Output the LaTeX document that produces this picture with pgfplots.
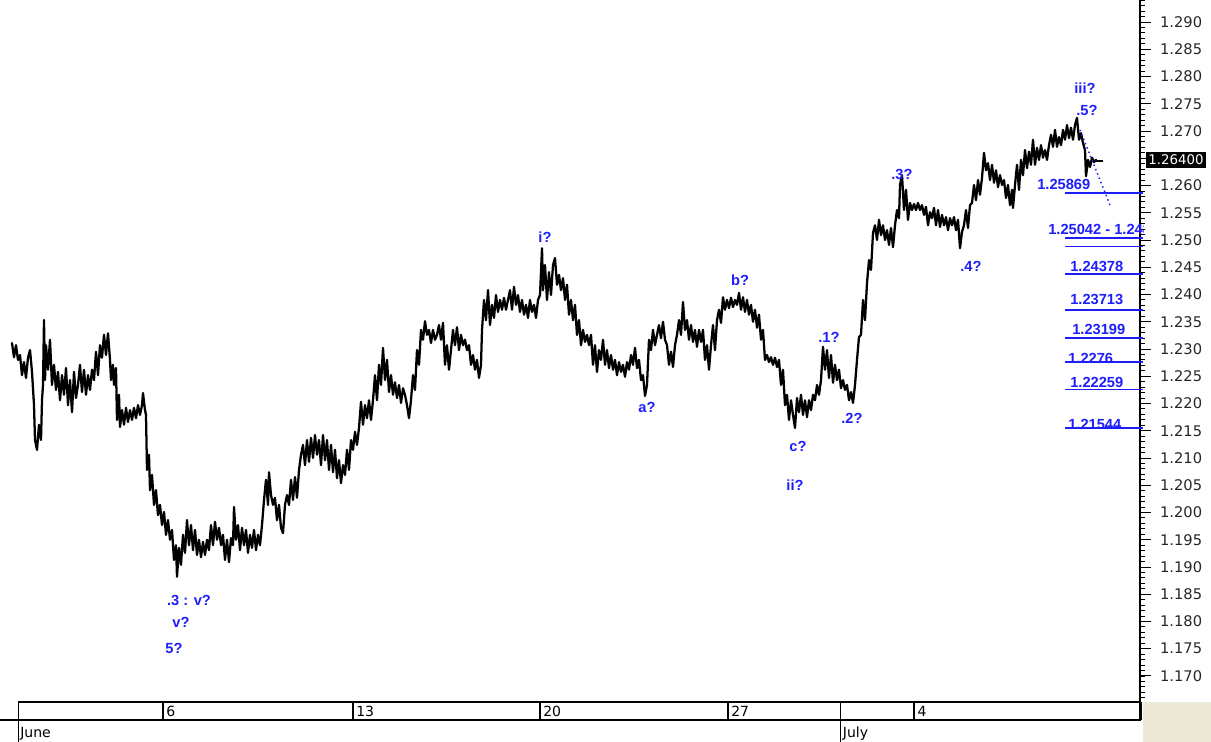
\documentclass[border=0pt]{standalone}
\usepackage{fontspec}
\setmainfont{DejaVu Sans}
\newfontfamily\lab{Liberation Sans}
\usepackage{pgfplots}
\pgfplotsset{compat=1.18}
\definecolor{lblue}{RGB}{30,30,250}
\definecolor{beige}{RGB}{236,233,216}
\newcommand{\bl}[1]{{\lab\bfseries\fontsize{11}{12}\selectfont\color{lblue}#1}}
\begin{document}
\begin{tikzpicture}
\begin{axis}[
  scale only axis, width=855pt, height=526.5pt,
  xmin=0, xmax=1140, ymin=1.16523, ymax=1.29404,
  clip=false,
  axis x line=none, axis y line=right,
  axis line style={-, line width=1.1pt},
  every outer y axis line/.append style={-},
  every inner y axis line/.append style={-},
  tick align=outside,
  ytick={1.170,1.175,1.180,1.185,1.190,1.195,1.200,1.205,1.210,1.215,1.220,1.225,1.230,1.235,1.240,1.245,1.250,1.255,1.260,1.270,1.275,1.280,1.285,1.290},
  extra y ticks={1.265}, extra y tick labels={},
  minor ytick={1.166,1.167,...,1.2941},
  major tick length=8.25pt, minor tick length=3.75pt,
  every tick/.style={black, line width=0.75pt},
  yticklabel pos=right,
  yticklabel style={/pgf/number format/.cd, fixed, fixed zerofill, precision=3, assume math mode=true},
  tick label style={font=\fontsize{11}{12}\selectfont, text=black!85, xshift=3.3pt},
]
\addplot[black, line width=1.7pt, line join=round, line cap=round] table {
x y
12 1.2311
14 1.2285
16 1.2307
18 1.2280
20 1.2289
22 1.2252
24 1.2276
26 1.2247
28 1.2284
30 1.2298
32 1.2258
34 1.2197
35 1.2133
37 1.2115
39 1.2161
41 1.2133
42 1.2206
43 1.2234
44 1.2353
45 1.2243
46 1.2307
48 1.2262
50 1.2317
52 1.2234
54 1.2271
56 1.2225
58 1.2258
60 1.2206
62 1.2252
64 1.2216
66 1.2265
68 1.2197
70 1.2243
72 1.2184
74 1.2258
76 1.2210
78 1.2234
80 1.2271
82 1.2221
84 1.2262
86 1.2216
88 1.2252
90 1.2225
92 1.2262
94 1.2243
96 1.2295
98 1.2252
100 1.2307
102 1.2284
104 1.2326
106 1.2289
108 1.2329
110 1.2280
111 1.2243
113 1.2271
114 1.2234
116 1.2265
117 1.2170
119 1.2216
120 1.2157
122 1.2188
124 1.2161
126 1.2192
128 1.2166
130 1.2188
132 1.2170
134 1.2192
136 1.2173
138 1.2197
140 1.2179
142 1.2197
143 1.2219
145 1.2188
146 1.2179
147 1.2078
149 1.2106
150 1.2041
152 1.2069
154 1.2014
156 1.2041
158 1.1995
160 1.2014
162 1.1977
164 1.2001
166 1.1959
168 1.1986
170 1.1950
172 1.1968
174 1.1913
176 1.1940
177 1.1882
179 1.1935
181 1.1904
183 1.1959
185 1.1926
187 1.1986
189 1.1940
191 1.1977
193 1.1931
195 1.1968
197 1.1922
199 1.1950
201 1.1918
203 1.1946
205 1.1922
207 1.1950
209 1.1931
211 1.1977
213 1.1940
215 1.1983
217 1.1950
219 1.1972
221 1.1940
223 1.1959
225 1.1913
227 1.1950
229 1.1909
231 1.1953
233 1.1940
234 1.2010
236 1.1950
238 1.1977
240 1.1931
242 1.1972
244 1.1940
246 1.1968
248 1.1926
250 1.1959
252 1.1935
254 1.1968
256 1.1931
258 1.1959
260 1.1940
262 1.1977
264 1.2023
266 1.2060
268 1.2014
269 1.2074
271 1.2032
273 1.2014
275 1.2027
277 1.1986
279 1.2014
281 1.1972
283 1.1962
285 1.2014
287 1.2032
289 1.2014
291 1.2060
293 1.2023
295 1.2065
297 1.2027
299 1.2078
301 1.2106
303 1.2124
305 1.2087
307 1.2133
309 1.2093
311 1.2137
313 1.2100
315 1.2142
317 1.2106
319 1.2133
321 1.2087
323 1.2142
325 1.2096
327 1.2133
329 1.2078
331 1.2124
333 1.2074
335 1.2115
337 1.2063
339 1.2096
341 1.2054
343 1.2087
345 1.2069
347 1.2115
349 1.2078
351 1.2133
353 1.2115
355 1.2148
357 1.2124
359 1.2155
361 1.2203
363 1.2161
365 1.2197
367 1.2173
369 1.2206
371 1.2170
373 1.2206
375 1.2252
377 1.2206
379 1.2271
381 1.2234
383 1.2302
385 1.2243
387 1.2280
389 1.2221
391 1.2252
393 1.2216
395 1.2239
397 1.2210
399 1.2234
401 1.2201
403 1.2228
405 1.2216
407 1.2197
409 1.2173
411 1.2206
413 1.2252
415 1.2225
417 1.2298
419 1.2271
421 1.2335
423 1.2317
425 1.2351
427 1.2326
429 1.2335
431 1.2311
433 1.2335
435 1.2317
437 1.2326
439 1.2344
441 1.2317
443 1.2348
445 1.2271
447 1.2307
449 1.2262
451 1.2298
453 1.2335
455 1.2307
457 1.2340
459 1.2298
461 1.2326
463 1.2307
465 1.2317
467 1.2298
469 1.2307
471 1.2271
473 1.2289
475 1.2262
477 1.2280
479 1.2247
481 1.2271
482 1.2335
484 1.2390
486 1.2353
488 1.2408
490 1.2344
492 1.2381
494 1.2357
496 1.2399
498 1.2368
500 1.2390
502 1.2372
504 1.2394
506 1.2372
508 1.2390
510 1.2408
512 1.2372
514 1.2414
516 1.2381
518 1.2399
520 1.2368
522 1.2390
524 1.2363
526 1.2381
528 1.2357
530 1.2390
532 1.2368
534 1.2381
536 1.2357
538 1.2390
540 1.2399
542 1.2485
543 1.2408
545 1.2454
547 1.2390
549 1.2441
551 1.2399
553 1.2454
555 1.2467
557 1.2418
559 1.2436
561 1.2408
563 1.2430
565 1.2390
567 1.2418
569 1.2363
571 1.2390
573 1.2353
575 1.2381
577 1.2326
579 1.2353
581 1.2307
583 1.2335
585 1.2313
587 1.2326
589 1.2307
591 1.2326
593 1.2271
595 1.2307
597 1.2258
599 1.2298
601 1.2280
603 1.2317
605 1.2271
607 1.2298
609 1.2265
611 1.2289
613 1.2262
615 1.2280
617 1.2252
619 1.2276
621 1.2258
623 1.2271
625 1.2249
627 1.2276
629 1.2262
631 1.2289
633 1.2271
635 1.2302
637 1.2265
639 1.2280
641 1.2243
643 1.2252
645 1.2214
647 1.2234
649 1.2317
651 1.2298
653 1.2335
655 1.2307
657 1.2326
659 1.2344
661 1.2320
663 1.2350
665 1.2317
667 1.2307
669 1.2271
671 1.2295
673 1.2267
675 1.2307
677 1.2326
679 1.2353
681 1.2326
683 1.2386
685 1.2335
687 1.2353
689 1.2317
691 1.2344
693 1.2313
695 1.2335
697 1.2304
699 1.2335
701 1.2313
703 1.2335
705 1.2280
707 1.2307
709 1.2262
711 1.2307
713 1.2344
715 1.2298
717 1.2353
719 1.2372
721 1.2348
723 1.2395
725 1.2372
727 1.2390
729 1.2375
731 1.2394
733 1.2377
735 1.2390
737 1.2381
739 1.2403
741 1.2372
743 1.2395
745 1.2368
747 1.2390
749 1.2363
751 1.2381
753 1.2350
755 1.2372
757 1.2339
759 1.2363
761 1.2317
763 1.2335
765 1.2280
767 1.2289
769 1.2276
771 1.2285
773 1.2271
775 1.2284
777 1.2267
779 1.2280
781 1.2234
783 1.2262
785 1.2197
787 1.2216
789 1.2170
791 1.2206
793 1.2179
795 1.2155
797 1.2210
799 1.2184
801 1.2216
803 1.2179
805 1.2206
807 1.2175
809 1.2206
811 1.2188
813 1.2216
815 1.2206
817 1.2234
819 1.2216
821 1.2243
823 1.2304
825 1.2262
827 1.2298
829 1.2247
831 1.2289
833 1.2238
835 1.2271
837 1.2243
839 1.2262
841 1.2228
843 1.2243
845 1.2225
847 1.2234
849 1.2206
851 1.2221
853 1.2201
855 1.2234
857 1.2280
859 1.2322
861 1.2326
863 1.2390
865 1.2353
867 1.2421
869 1.2463
871 1.2445
873 1.2513
875 1.2527
877 1.2500
879 1.2537
881 1.2509
883 1.2527
885 1.2500
887 1.2518
889 1.2491
891 1.2522
893 1.2487
895 1.2527
897 1.2555
899 1.2540
900 1.2601
902 1.2619
904 1.2555
906 1.2592
908 1.2537
910 1.2568
912 1.2555
914 1.2566
916 1.2555
918 1.2568
920 1.2555
922 1.2564
924 1.2546
926 1.2561
928 1.2527
930 1.2551
932 1.2540
934 1.2559
936 1.2527
938 1.2555
940 1.2524
942 1.2546
944 1.2527
946 1.2542
948 1.2518
950 1.2540
952 1.2527
954 1.2542
956 1.2518
958 1.2537
960 1.2485
962 1.2515
964 1.2527
966 1.2555
968 1.2522
970 1.2564
972 1.2568
974 1.2601
976 1.2573
978 1.2610
980 1.2583
982 1.2614
984 1.2660
986 1.2628
988 1.2641
990 1.2610
992 1.2638
994 1.2605
996 1.2628
998 1.2597
1000 1.2619
1002 1.2601
1004 1.2610
1006 1.2577
1008 1.2601
1010 1.2564
1012 1.2592
1013 1.2559
1015 1.2601
1017 1.2638
1019 1.2592
1021 1.2647
1023 1.2619
1025 1.2665
1027 1.2632
1029 1.2662
1031 1.2638
1033 1.2684
1035 1.2638
1037 1.2669
1039 1.2647
1041 1.2674
1043 1.2651
1045 1.2665
1047 1.2647
1049 1.2674
1051 1.2693
1053 1.2671
1055 1.2702
1057 1.2671
1059 1.2689
1061 1.2674
1063 1.2702
1065 1.2684
1067 1.2711
1069 1.2687
1071 1.2706
1073 1.2684
1075 1.2711
1077 1.2724
1079 1.2684
1081 1.2696
1083 1.2678
1085 1.2665
1086 1.2617
1088 1.2647
1090 1.2634
1092 1.2651
1094 1.2643
1096 1.2647
};
\addplot[black, line width=1.3pt] coordinates {(1094,1.2645) (1103,1.2645)};
% projection
\addplot[lblue, line width=1.1pt, dash pattern=on 1.1pt off 2.4pt] coordinates {(1080,1.2702) (1110,1.2564)};
% levels
\addplot[lblue, line width=1.3pt] coordinates {(1065,1.25869) (1143,1.25869)};
\addplot[lblue, line width=1.3pt] coordinates {(1065,1.25042) (1143,1.25042)};
\addplot[lblue, line width=1.3pt] coordinates {(1065,1.24881) (1143,1.24881)};
\addplot[lblue, line width=1.3pt] coordinates {(1065,1.24378) (1143,1.24378)};
\addplot[lblue, line width=1.3pt] coordinates {(1065,1.23713) (1143,1.23713)};
\addplot[lblue, line width=1.3pt] coordinates {(1065,1.23199) (1143,1.23199)};
\addplot[lblue, line width=1.3pt] coordinates {(1065,1.22760) (1143,1.22760)};
\addplot[lblue, line width=1.3pt] coordinates {(1065,1.22259) (1143,1.22259)};
\addplot[lblue, line width=1.3pt] coordinates {(1065,1.21544) (1143,1.21544)};
% level labels
\node[anchor=base west, inner sep=0pt] at (axis cs:1037,1.25918) {\bl{1.25869}};
\begin{scope}
\clip (axis cs:1000,1.2470) rectangle (axis cs:1143,1.2560);
\node[anchor=base west, inner sep=0pt] at (axis cs:1048,1.25092) {\bl{1.25042 - 1.24881}};
\end{scope}
\node[anchor=base west, inner sep=0pt] at (axis cs:1070,1.24422) {\bl{1.24378}};
\node[anchor=base west, inner sep=0pt] at (axis cs:1070,1.2381) {\bl{1.23713}};
\node[anchor=base west, inner sep=0pt] at (axis cs:1072,1.2326) {\bl{1.23199}};
\node[anchor=base west, inner sep=0pt] at (axis cs:1068,1.2274) {\bl{1.2276}};
\node[anchor=base west, inner sep=0pt] at (axis cs:1070,1.2230) {\bl{1.22259}};
\node[anchor=base west, inner sep=0pt] at (axis cs:1068,1.2153) {\bl{1.21544}};
% wave labels
\node[inner sep=0pt] at (axis cs:1085,1.2779) {\bl{iii?}};
\node[inner sep=0pt] at (axis cs:1087,1.2738) {\bl{.5?}};
\node[inner sep=0pt] at (axis cs:545,1.2506) {\bl{i?}};
\node[inner sep=0pt] at (axis cs:740,1.2427) {\bl{b?}};
\node[inner sep=0pt] at (axis cs:647,1.2192) {\bl{a?}};
\node[inner sep=0pt] at (axis cs:798,1.2122) {\bl{c?}};
\node[inner sep=0pt] at (axis cs:795,1.2051) {\bl{ii?}};
\node[inner sep=0pt] at (axis cs:829,1.2322) {\bl{.1?}};
\node[inner sep=0pt] at (axis cs:852,1.2172) {\bl{.2?}};
\node[inner sep=0pt] at (axis cs:902,1.2621) {\bl{.3?}};
\node[inner sep=0pt] at (axis cs:971,1.2452) {\bl{.4?}};
\node[inner sep=0pt] at (axis cs:189,1.1839) {\bl{.3 : v?}};
\node[inner sep=0pt] at (axis cs:181,1.1799) {\bl{v?}};
\node[inner sep=0pt] at (axis cs:174,1.1750) {\bl{5?}};
% last price box
\node[fill=black, text=white, inner xsep=1.5pt, inner ysep=2.5pt, font=\fontsize{10}{12}\selectfont] at (axis cs:1176,1.2647) {1.26400};
\end{axis}
% date strip (px -> pt: x*0.75, (702-y)*0.75)
\fill[beige] (857.25pt,0pt) rectangle (908.25pt,-30pt);
\draw[line width=1.4pt] (13.5pt,0pt) -- (856pt,0pt);
\draw[line width=1.1pt] (0pt,-13.5pt) -- (856pt,-13.5pt);
\draw[line width=0.75pt] (13.5pt,0pt) -- (13.5pt,-30pt);
\draw[line width=0.75pt] (630pt,0pt) -- (630pt,-30pt);
\foreach \xx in {122.25,264.75,405,546,685.5}{
  \draw[line width=1.4pt] (\xx pt,0pt) -- (\xx pt,-13.5pt);
}
\draw[line width=2pt] (855.5pt,0pt) -- (855.5pt,-13.5pt);
\begin{scope}[font=\fontsize{10.5}{12}\selectfont, inner sep=0pt, anchor=west]
\node[anchor=west] at (124.5pt,-6.75pt) {6};
\node[anchor=west] at (267pt,-6.75pt) {13};
\node[anchor=west] at (407.25pt,-6.75pt) {20};
\node[anchor=west] at (548.25pt,-6.75pt) {27};
\node[anchor=west] at (688pt,-6.75pt) {4};
\node[anchor=west] at (15pt,-23.5pt) {June};
\node[anchor=west] at (632pt,-23.5pt) {July};
\end{scope}
\pgfresetboundingbox
\useasboundingbox (0pt,-30pt) rectangle (908.25pt,526.5pt);
\end{tikzpicture}
\end{document}
